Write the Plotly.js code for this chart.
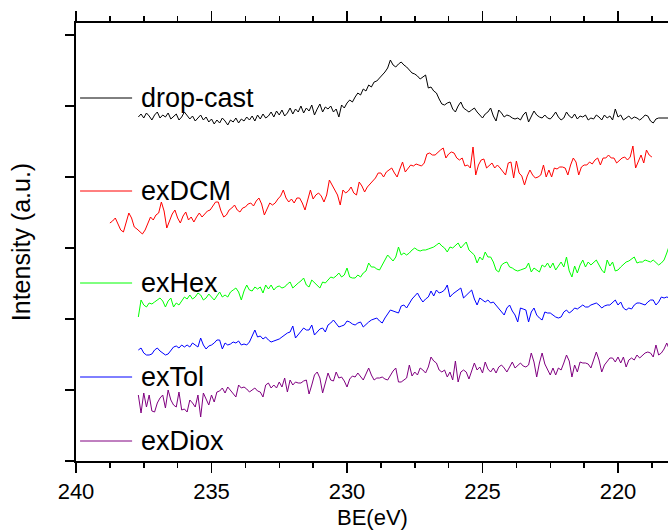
<!DOCTYPE html>
<html>
<head>
<meta charset="utf-8">
<script src="https://cdn.plot.ly/plotly-3.0.1.min.js"></script>
<style>
  html, body { margin: 0; padding: 0; background: #ffffff; }
  #chart { width: 668px; height: 532px; }
</style>
</head>
<body>
<div id="chart"></div>
<script>
// Binding-energy grids (eV): first point and spacing of each scan
const beStartMain = 237.7;
const beStartDCM = 238.75;
const beStep = 0.1;

// Spectrum names
const seriesNames = ['drop-cast', 'exDCM', 'exHex', 'exTol', 'exDiox'];

// Intensities (a.u., stacked offsets included)
const dropCast = [
  344,347,343,348,345,341,346,349,343,346,
  344,348,342,345,347,341,344,349,345,342,
  345,340,343,346,341,344,339,342,337,341,
  338,343,340,336,341,339,343,338,342,340,
  344,341,345,340,346,342,347,343,345,349,
  344,350,346,351,345,348,353,347,352,349,
  355,348,353,350,356,346,352,357,349,354,
  352,355,349,352,344,356,353,358,361,359,
  364,368,366,372,370,376,374,379,380,383,
  385,389,393,401,396,394,397,399,396,394,
  391,388,387,385,382,384,386,373,374,370,
  368,362,357,356,358,359,352,349,355,359,
  353,351,349,351,353,349,346,343,347,349,
  353,345,340,351,348,344,346,345,343,342,
  343,341,346,349,339,345,350,346,344,343,
  346,343,342,345,349,344,341,343,349,345,
  343,347,342,345,344,346,341,343,342,346,
  344,341,346,343,345,341,352,344,346,341,
  343,345,342,344,343,341,343,346,345,340,
  338,342,343,343,343,343,343
];

const exDCM = [
  238,240,243,236,231,229,240,248,243,234,
  232,229,227,231,238,244,241,246,248,259,
  250,233,240,247,251,243,238,245,249,241,
  244,239,244,248,244,247,250,251,255,259,
  259,250,244,246,251,253,256,251,249,253,
  254,257,258,255,260,263,257,246,252,258,
  256,258,262,265,271,263,259,262,258,263,
  263,258,251,262,271,262,266,268,265,259,
  266,281,276,270,266,256,271,268,270,274,
  268,266,279,275,269,274,277,279,283,288,
  288,284,289,291,293,288,284,292,299,289,
  293,296,295,297,296,295,298,307,308,306,
  306,309,311,313,303,307,309,308,303,301,
  303,295,296,293,314,286,296,301,302,293,
  296,298,293,296,293,289,286,298,299,283,
  300,288,285,276,285,291,286,283,284,286,
  296,284,291,284,293,292,294,294,293,286,
  296,303,299,286,294,296,296,299,297,301,
  303,296,303,303,306,303,303,298,301,303,
  304,301,304,315,293,299,306,298,311,306,
  304
];

const exHex = [
  144,161,156,154,158,157,159,161,163,160,
  154,160,163,154,158,156,160,164,162,166,
  162,164,168,166,161,163,167,164,161,165,
  169,164,166,164,169,171,173,169,161,170,
  176,171,170,174,172,174,168,176,172,176,
  171,174,175,173,174,177,179,173,176,178,
  180,183,176,174,181,178,176,173,179,178,
  181,184,183,185,188,184,186,193,184,183,
  183,186,184,188,190,198,194,194,192,191,
  196,201,206,203,200,204,214,206,208,206,
  208,211,213,211,210,211,211,212,213,214,
  216,218,215,213,209,214,213,216,218,213,
  216,219,211,208,206,198,204,201,209,204,
  204,199,191,189,196,198,199,194,193,191,
  190,191,192,193,198,189,193,191,189,196,
  194,198,193,198,191,195,199,194,204,190,
  184,195,188,196,201,194,199,196,199,201,
  196,191,188,201,195,199,190,191,194,197,
  199,200,202,204,198,199,199,201,200,199,
  201,198,196,198,201,208,216
];

const exTol = [
  111,113,108,106,106,107,111,113,110,108,
  106,107,111,114,115,113,116,114,116,114,
  118,116,114,123,116,112,115,116,118,121,
  121,112,118,116,117,119,118,120,116,117,
  116,119,126,131,124,125,122,124,121,119,
  120,121,122,124,126,128,129,135,123,126,
  129,133,131,131,136,126,129,132,133,129,
  136,138,141,137,134,135,136,140,139,137,
  136,138,139,134,137,139,141,142,143,140,
  138,143,147,151,150,149,148,155,156,153,
  158,162,165,168,163,159,162,164,170,165,
  171,168,169,171,176,164,167,169,171,173,
  163,166,169,171,162,156,163,161,159,161,
  158,159,156,153,149,146,153,156,150,146,
  139,153,152,151,139,149,153,146,143,141,
  149,148,148,146,144,143,144,149,151,148,
  150,153,152,154,156,154,154,156,157,158,
  156,153,155,156,156,159,161,156,159,153,
  151,153,152,156,158,158,157,156,159,161,
  161,156,159,164,163,164,163
];

const exDiox = [
  66,48,68,54,66,50,49,58,63,66,
  53,71,61,56,54,69,51,52,49,61,
  58,54,66,44,68,61,56,66,59,69,
  70,73,68,74,71,67,64,76,73,74,
  72,69,71,73,70,69,64,76,78,73,
  76,73,79,74,83,69,81,76,79,78,
  78,80,81,67,76,86,89,83,68,79,
  88,81,80,89,83,84,80,74,82,85,
  84,88,85,81,87,93,86,81,83,83,
  84,82,81,86,90,93,79,79,81,83,
  96,85,89,86,93,91,88,94,104,100,
  98,91,89,91,84,89,81,100,79,89,
  91,89,82,90,98,91,94,88,99,92,
  89,93,88,94,96,93,89,94,99,93,
  96,98,95,94,96,108,99,84,98,108,
  97,91,86,93,86,93,91,98,106,100,
  84,96,89,99,98,98,97,93,101,109,
  101,89,96,99,103,103,99,104,98,104,
  94,101,103,101,106,103,106,108,109,108,
  104,116,106,108,112,118,111
];

// Energy axis for a scan of n points
function energyGrid(start, n) {
  const out = [];
  for (let i = 0; i < n; i++) out.push(+(start - i * beStep).toFixed(2));
  return out;
}

const seriesValues = [dropCast, exDCM, exHex, exTol, exDiox];
const seriesStarts = [beStartMain, beStartDCM, beStartMain, beStartMain, beStartMain];

// Styling
const seriesColors = ['#000000', '#ff0000', '#00ff00', '#0000ff', '#800080'];
const labelLevels = [363, 270, 178, 84, 20];   // vertical position of each key
const keyX0 = 239.85, keyX1 = 237.93, keyTextX = 237.66;
const fontFamily = 'Liberation Sans, Arial, sans-serif';

const traces = seriesValues.map((vals, k) => ({
  type: 'scatter',
  mode: 'lines',
  x: energyGrid(seriesStarts[k], vals.length),
  y: vals,
  name: seriesNames[k],
  line: { color: seriesColors[k], width: 1 },
  hoverinfo: 'skip',
  showlegend: false
}));

const shapes = seriesNames.map((n, k) => ({
  type: 'line', xref: 'x', yref: 'y',
  x0: keyX0, x1: keyX1, y0: labelLevels[k], y1: labelLevels[k],
  line: { color: seriesColors[k], width: 1 }
}));

const annotations = seriesNames.map((n, k) => ({
  xref: 'x', yref: 'y', x: keyTextX, y: labelLevels[k],
  text: n, showarrow: false, xanchor: 'left', yanchor: 'middle',
  font: { family: fontFamily, size: 27, color: '#000000' }
}));

// x-axis title placed under the tick labels
annotations.push({
  xref: 'paper', yref: 'paper', x: 0.5, y: -0.128,
  text: 'BE(eV)', showarrow: false, xanchor: 'center', yanchor: 'middle',
  font: { family: fontFamily, size: 22, color: '#000000' }
});

const layout = {
  width: 668, height: 532,
  margin: { l: 76, r: 0, t: 23, b: 71, pad: 0 },
  paper_bgcolor: '#ffffff', plot_bgcolor: '#ffffff',
  font: { family: fontFamily, color: '#000000' },
  showlegend: false,
  xaxis: {
    range: [240, 218.155], autorange: false,
    tickmode: 'linear', tick0: 240, dtick: 5,
    ticks: 'outside', ticklen: 10, tickwidth: 1.5, tickcolor: '#000000',
    minor: { ticks: 'outside', ticklen: 5, tickwidth: 1.5, tickcolor: '#000000', tick0: 240, dtick: 1.25, showgrid: false },
    showline: true, linewidth: 1.6, linecolor: '#000000', mirror: 'ticks',
    showgrid: false, zeroline: false,
    tickfont: { family: fontFamily, size: 22, color: '#000000' }
  },
  yaxis: {
    range: [0, 438], autorange: false,
    tickmode: 'linear', tick0: 0, dtick: 71,
    ticks: 'outside', ticklen: 9, tickwidth: 1.5, tickcolor: '#000000',
    showticklabels: false,
    showline: true, linewidth: 1.6, linecolor: '#000000',
    showgrid: false, zeroline: false,
    title: { text: 'Intensity (a.u.)', font: { family: fontFamily, size: 25, color: '#000000' }, standoff: 27 }
  },
  shapes: shapes,
  annotations: annotations
};

Plotly.newPlot('chart', traces, layout, { staticPlot: true, displayModeBar: false });
</script>
</body>
</html>
